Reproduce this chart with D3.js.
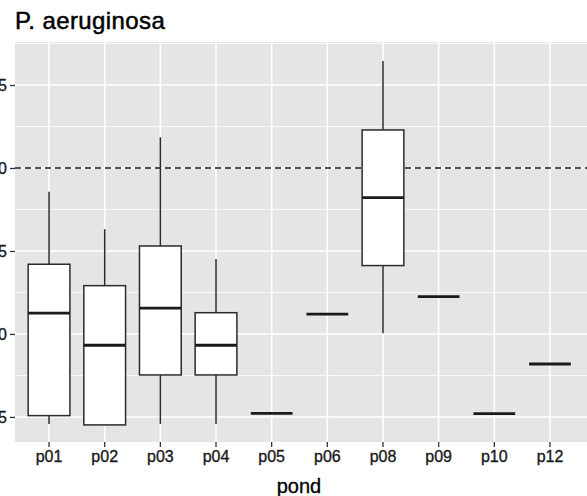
<!DOCTYPE html>
<html lang="en">
<head>
<meta charset="UTF-8">
<title>P. aeruginosa</title>
<script src="https://cdn.jsdelivr.net/npm/d3@7"></script>
<style>
  body { margin: 0; background: #fff; }
  svg { display: block; font-family: "Liberation Sans", Arial, sans-serif; }
</style>
</head>
<body>
<div id="figure"></div>
<script>
// box statistics per pond
const ponds = ["p01", "p02", "p03", "p04", "p05", "p06", "p08", "p09", "p10", "p12"];
const lowWhisker = [0.458, 0.452, 0.458, 0.458, 0.522, 1.120, 1.004, 1.225, 0.520, 0.819];
const q1 = [0.508, 0.452, 0.753, 0.753, 0.522, 1.120, 1.412, 1.225, 0.520, 0.819];
const medians = [1.125, 0.932, 1.155, 0.932, 0.522, 1.120, 1.821, 1.225, 0.520, 0.819];
const q3 = [1.420, 1.291, 1.530, 1.128, 0.522, 1.120, 2.229, 1.225, 0.520, 0.819];
const highWhisker = [1.857, 1.631, 2.185, 1.452, 0.522, 1.120, 2.645, 1.225, 0.520, 0.819];
const yTicks = [0.5, 1.0, 1.5, 2.0, 2.5];
const threshold = 2.0;

const W = 587, H = 496;
const panel = {left: 15, top: 42, right: 590, bottom: 442};

const svg = d3.select("#figure").append("svg")
    .attr("width", W)
    .attr("height", H);

let x = d3.scaleBand()
    .domain(ponds)
    .range([21.2, 577.8])
    .paddingInner(0)
    .paddingOuter(0);

let y = d3.scaleLinear()
    .domain([0.349, 2.759])
    .range([panel.bottom, panel.top]);

// panel background
svg.append("rect")
    .attr("x", panel.left)
    .attr("y", panel.top)
    .attr("width", panel.right - panel.left)
    .attr("height", panel.bottom - panel.top)
    .attr("fill", "#e5e5e5");

let grid = svg.append("g");
// minor horizontal grid (between majors)
let minor = [];
for (let i = 0; i < yTicks.length + 1; i++) {
    let v = yTicks[0] - 0.25 + i * 0.5;
    if (y(v) >= panel.top && y(v) <= panel.bottom) minor.push(v);
}
grid.selectAll(".minor").data(minor).join("line")
    .attr("x1", panel.left).attr("x2", panel.right)
    .attr("y1", d => y(d)).attr("y2", d => y(d))
    .attr("stroke", "#fff").attr("stroke-width", 0.8);
grid.selectAll(".major").data(yTicks).join("line")
    .attr("x1", panel.left).attr("x2", panel.right)
    .attr("y1", d => y(d)).attr("y2", d => y(d))
    .attr("stroke", "#fff").attr("stroke-width", 1.6);
grid.selectAll(".vmajor").data(ponds).join("line")
    .attr("x1", d => x(d) + x.bandwidth() / 2).attr("x2", d => x(d) + x.bandwidth() / 2)
    .attr("y1", panel.top).attr("y2", panel.bottom)
    .attr("stroke", "#fff").attr("stroke-width", 1.6);

// threshold line
svg.append("line")
    .attr("x1", panel.left).attr("x2", panel.right)
    .attr("y1", y(threshold)).attr("y2", y(threshold))
    .attr("stroke", "#1a1a1a").attr("stroke-width", 1.5)
    .attr("stroke-dasharray", "6,4");

// boxes
let boxW = x.bandwidth() * 0.75;
let boxes = svg.append("g").selectAll("g").data(ponds).join("g")
    .attr("transform", d => `translate(${x(d) + x.bandwidth() / 2},0)`);

boxes.append("line")
    .attr("y1", (d, i) => y(highWhisker[i]))
    .attr("y2", (d, i) => y(q3[i]))
    .attr("stroke", "#2b2b2b").attr("stroke-width", 1.5);
boxes.append("line")
    .attr("y1", (d, i) => y(q1[i]))
    .attr("y2", (d, i) => y(lowWhisker[i]))
    .attr("stroke", "#2b2b2b").attr("stroke-width", 1.5);
boxes.append("rect")
    .attr("x", -boxW / 2)
    .attr("width", boxW)
    .attr("y", (d, i) => y(q3[i]))
    .attr("height", (d, i) => y(q1[i]) - y(q3[i]))
    .attr("fill", "#fff")
    .attr("stroke", "#2b2b2b").attr("stroke-width", 1.5);
boxes.append("line")
    .attr("x1", -boxW / 2).attr("x2", boxW / 2)
    .attr("y1", (d, i) => y(medians[i]))
    .attr("y2", (d, i) => y(medians[i]))
    .attr("stroke", "#1a1a1a").attr("stroke-width", 2.8);

// x axis
let xAxis = svg.append("g")
    .attr("transform", `translate(0,${panel.bottom})`)
    .call(d3.axisBottom(x).tickSize(5).tickPadding(4));
xAxis.select(".domain").remove();
xAxis.selectAll(".tick line").attr("stroke", "#333").attr("stroke-width", 1.3);
xAxis.selectAll(".tick text")
    .attr("fill", "#1a1a1a")
    .attr("stroke", "#1a1a1a").attr("stroke-width", 0.35)
    .style("font-size", "16px");

// y axis (labels run off the left edge, as in the original crop)
let yAxis = svg.append("g")
    .attr("transform", `translate(${panel.left},0)`)
    .call(d3.axisLeft(y).tickValues(yTicks).tickFormat(d3.format(".1f")).tickSize(5).tickPadding(3));
yAxis.select(".domain").remove();
yAxis.selectAll(".tick line").attr("stroke", "#333").attr("stroke-width", 1.3);
yAxis.selectAll(".tick text")
    .attr("fill", "#1a1a1a")
    .attr("stroke", "#1a1a1a").attr("stroke-width", 0.35)
    .style("font-size", "16px");

// titles
svg.append("text")
    .attr("x", 15)
    .attr("y", 28.5)
    .attr("fill", "#000")
    .attr("stroke", "#000").attr("stroke-width", 0.5)
    .style("font-size", "24px")
    .style("letter-spacing", "0.4px")
    .text("P. aeruginosa");

svg.append("text")
    .attr("x", 299)
    .attr("y", 493)
    .attr("text-anchor", "middle")
    .attr("fill", "#000")
    .attr("stroke", "#000").attr("stroke-width", 0.3)
    .style("font-size", "20px")
    .text("pond");
</script>
</body>
</html>
